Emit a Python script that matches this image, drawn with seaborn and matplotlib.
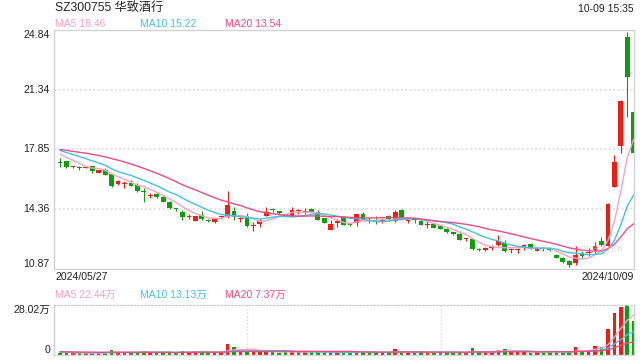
import numpy as np
import pandas as pd
import seaborn as sns
from matplotlib import pyplot as plt

# header / labels
title = 'SZ300755 华致酒行'
stamp = '10-09 15:35'
date_first = '2024/05/27'
date_last = '2024/10/09'
price_ticks = [10.87, 14.36, 17.85, 21.34, 24.84]
vol_top = 28.02
price_legend = ['MA5 18.46', 'MA10 15.22', 'MA20 13.54']
vol_legend = ['MA5 22.44万', 'MA10 13.13万', 'MA20 7.37万']

# daily candles 2024/05/27 .. 2024/10/09
opens = [17.15, 17.16, 16.82, 16.83, 16.78, 16.87, 16.48, 16.63, 16.42, 15.83,
         15.83, 15.89, 15.77, 15.40, 15.14, 15.26, 15.10, 14.81, 14.40, 14.22,
         13.93, 13.70, 14.03, 13.72, 13.60, 13.92, 13.93, 14.28, 13.80, 14.00,
         13.40, 13.48, 13.97, 14.32, 14.26, 14.05, 14.00, 14.25, 14.19, 14.40,
         14.20, 13.83, 13.17, 13.58, 13.90, 13.46, 13.58, 14.12, 13.72, 13.66,
         13.66, 14.00, 13.67, 14.30, 13.66, 13.78, 13.67, 13.44, 13.48, 13.42,
         13.22, 12.98, 12.90, 12.62, 12.63, 12.03, 12.02, 12.12, 12.30, 12.40,
         12.00, 11.99, 12.10, 12.36, 11.96, 12.07, 12.10, 11.69, 11.52, 11.35,
         11.22, 11.80, 11.82, 11.96, 12.50, 12.22, 15.67, 18.04, 24.38, 20.01]
highs = [17.37, 17.20, 16.90, 16.88, 16.88, 16.90, 16.65, 16.77, 16.45, 16.05,
         15.99, 16.08, 15.89, 15.60, 15.30, 15.30, 15.14, 14.85, 14.46, 14.32,
         14.07, 14.00, 14.28, 13.80, 13.80, 13.99, 15.44, 14.48, 13.93, 14.15,
         13.60, 13.81, 14.52, 14.42, 14.29, 14.10, 14.52, 14.40, 14.46, 14.42,
         14.30, 13.86, 13.73, 13.80, 13.95, 13.55, 14.12, 14.22, 13.90, 13.97,
         13.87, 14.05, 14.32, 14.40, 13.77, 13.78, 13.72, 13.67, 13.55, 13.45,
         13.25, 13.03, 13.08, 12.70, 12.66, 12.11, 12.16, 12.30, 12.89, 12.56,
         12.11, 12.11, 12.36, 12.40, 12.16, 12.17, 12.13, 11.77, 11.56, 11.40,
         12.24, 11.95, 12.11, 12.44, 12.75, 14.72, 17.50, 20.72, 24.70, 20.10]
lows = [16.85, 16.78, 16.78, 16.68, 16.76, 16.48, 16.46, 16.35, 15.66, 15.80,
        15.60, 15.70, 15.40, 14.81, 15.01, 15.00, 14.78, 14.38, 14.28, 13.73,
        13.81, 13.68, 13.73, 13.60, 13.57, 13.82, 13.87, 13.77, 13.64, 13.35,
        13.08, 13.32, 13.95, 14.20, 14.10, 13.97, 13.95, 14.07, 14.10, 14.18,
        13.75, 13.55, 13.15, 13.35, 13.45, 13.37, 13.42, 13.78, 13.57, 13.52,
        13.57, 13.75, 13.65, 13.87, 13.55, 13.55, 13.43, 13.28, 13.27, 13.20,
        13.00, 12.87, 12.58, 12.50, 12.00, 11.91, 11.91, 12.00, 12.20, 11.90,
        11.81, 11.81, 12.00, 12.08, 11.91, 11.91, 11.95, 11.50, 11.25, 10.99,
        11.12, 11.52, 11.62, 11.81, 12.25, 12.20, 15.65, 17.65, 19.75, 17.60]
closes = [17.05, 16.81, 16.87, 16.78, 16.82, 16.58, 16.63, 16.38, 15.70, 16.03,
          15.87, 15.74, 15.46, 15.35, 15.18, 15.07, 14.81, 14.42, 14.37, 13.89,
          13.97, 13.97, 13.78, 13.68, 13.78, 13.95, 14.62, 13.89, 13.83, 13.40,
          13.45, 13.67, 14.20, 14.30, 14.13, 14.00, 14.30, 14.30, 14.22, 14.20,
          13.77, 13.58, 13.50, 13.68, 13.47, 13.43, 14.07, 13.81, 13.68, 13.62,
          13.70, 13.80, 14.20, 13.90, 13.70, 13.73, 13.45, 13.48, 13.30, 13.24,
          13.03, 12.95, 12.60, 12.66, 12.07, 12.00, 12.05, 12.16, 12.50, 11.91,
          12.03, 12.03, 12.30, 12.10, 11.98, 12.04, 11.97, 11.54, 11.28, 11.12,
          11.71, 11.65, 11.86, 12.24, 12.30, 14.65, 17.14, 20.69, 22.10, 17.65]
# volume in 万 shares
volumes = [1.4, 1.0, 1.0, 1.0, 1.0, 1.3, 1.3, 1.3, 2.6, 1.4,
           1.3, 1.3, 1.4, 2.5, 1.3, 1.3, 1.4, 1.4, 1.2, 2.5,
           1.3, 2.4, 1.4, 1.2, 1.3, 1.2, 5.9, 4.7, 2.0, 2.0,
           1.9, 1.9, 2.0, 1.9, 1.0, 1.8, 2.0, 1.9, 1.6, 1.6,
           1.6, 1.5, 1.5, 1.3, 1.3, 1.3, 2.4, 1.5, 1.4, 1.4,
           1.4, 1.5, 3.5, 1.5, 1.4, 1.4, 1.5, 1.4, 1.4, 1.5,
           1.5, 1.4, 1.5, 1.0, 4.1, 1.5, 1.4, 1.4, 3.0, 3.5,
           1.8, 1.7, 1.8, 1.2, 1.7, 1.7, 1.7, 1.8, 1.2, 1.5,
           4.6, 2.3, 2.8, 5.0, 4.3, 14.3, 23.6, 27.0, 28.02, 19.28]

# sessions before the window (only feed the moving averages)
prev_closes = [17.90, 18.00, 17.85, 17.80, 17.95, 18.05, 17.90, 17.75, 17.85, 17.95,
               18.10, 18.00, 17.95, 18.05, 17.90, 17.85, 17.70, 17.75, 17.65]
prev_volumes = [1.9, 2.1, 1.7, 1.6, 2.2, 1.8, 1.5, 1.9, 2.0, 1.7,
                1.6, 1.8, 2.3, 1.9, 1.7, 1.6, 1.8, 1.5, 1.7]

ma_colors = ['#f6a2c3', '#3fc3e3', '#ee4c84']
up_color = '#f21c12'
down_color = '#0c9f0c'
frame = '#d2d2d2'
W, H = 640, 360


def moving_averages(prev, cur):
    s = pd.Series(prev + cur)
    return [s.rolling(n).mean().values[len(prev):] for n in (5, 10, 20)]


def fig_text(fig, x_px, y_px, s, **kw):
    # place text by pixel position (top-left origin)
    fig.text(x_px / W, 1 - y_px / H, s, va='center', **kw)


sns.set_theme(style='white')
plt.rcParams['font.family'] = ['Liberation Sans', 'Noto Sans CJK SC', 'DejaVu Sans']

fig = plt.figure(figsize=(W / 100, H / 100), dpi=100)
ax = fig.add_axes([54 / W, 90.7 / H, 580 / W, 239.8 / H])
axv = fig.add_axes([54 / W, 5 / H, 580 / W, 50 / H])

o = np.array(opens)
c = np.array(closes)
x = np.arange(len(o))
colors = [up_color if cc >= oo else down_color for oo, cc in zip(o, c)]

# candles
ax.vlines(x, lows, highs, colors=colors, lw=0.8, zorder=2)
ax.bar(x, np.maximum(np.abs(c - o), 0.07), bottom=np.minimum(o, c), width=0.74,
       color=colors, lw=0, zorder=3)
for ma, col in zip(moving_averages(prev_closes, closes), ma_colors):
    sns.lineplot(x=x, y=ma, ax=ax, color=col, lw=1.0, legend=False, zorder=4)

for v in price_ticks[1:-1]:
    ax.axhline(v, color='#e2e2e2', lw=1.3, ls=(0, (1.2, 1.2)), zorder=1)
ax.set_xlim(-0.93, 89.05)
ax.set_ylim(price_ticks[0], price_ticks[-1])
ax.set_xticks([])
ax.set_yticks([])
ax.set_xlabel('')
ax.set_ylabel('')
for sp in ax.spines.values():
    sp.set_color(frame)
    sp.set_linewidth(1.0)
ytr = ax.get_yaxis_transform()
for i, v in enumerate(price_ticks):
    va = 'bottom' if i == 0 else ('top' if i == len(price_ticks) - 1 else 'center')
    ax.text(-0.007, v, '%.2f' % v, transform=ytr, ha='right', va=va,
            fontsize=7.6, color='#222222')
ax.text(0.981, 0.085, 'sina.com', transform=ax.transAxes, ha='right', va='center',
        fontsize=8, color='#cccccc', alpha=0.6, zorder=5)

# volume panel
axv.bar(x, volumes, width=0.55, color=colors, lw=0, zorder=2)
for ma, col in zip(moving_averages(prev_volumes, volumes), ma_colors):
    sns.lineplot(x=x, y=ma, ax=axv, color=col, lw=1.0, legend=False, zorder=3)
axv.set_xlim(-0.93, 89.05)
axv.set_ylim(0, vol_top)
axv.set_xticks([])
axv.set_yticks([])
axv.set_xlabel('')
axv.set_ylabel('')
for name, sp in axv.spines.items():
    sp.set_color('#cfcfcf')
    sp.set_linewidth(1.0)
    if name in ('top', 'bottom'):
        sp.set_linestyle((0, (1, 1.5)))
for fx in (1 / 3, 2 / 3):
    axv.plot([fx, fx], [0, 1], transform=axv.transAxes, color='#d8d8d8',
             lw=1.0, ls=(0, (1, 1.5)), zorder=1)
ytv = axv.get_yaxis_transform()
axv.text(-0.007, vol_top, '%.2f万' % vol_top, transform=ytv, ha='right', va='top',
         fontsize=7.6, color='#222222')
axv.text(-0.007, 0, '0', transform=ytv, ha='right', va='bottom',
         fontsize=7.6, color='#222222')

# header, legends, dates
fig_text(fig, 55, 8, title, ha='left', fontsize=8.7, color='#222222')
fig_text(fig, 634, 8.5, stamp, ha='right', fontsize=7.5, color='#222222')
for s, px, col in zip(price_legend, (55, 140, 225), ma_colors):
    fig_text(fig, px, 23.7, s, ha='left', fontsize=7.5, color=col)
fig_text(fig, 55, 277.5, date_first, ha='left', fontsize=7.6, color='#222222')
fig_text(fig, 634, 277.5, date_last, ha='right', fontsize=7.6, color='#222222')
for s, px, col in zip(vol_legend, (55, 140, 225), ma_colors):
    fig_text(fig, px, 294.5, s, ha='left', fontsize=7.5, color=col)

fig.savefig('out.png', dpi=100, facecolor='white')
